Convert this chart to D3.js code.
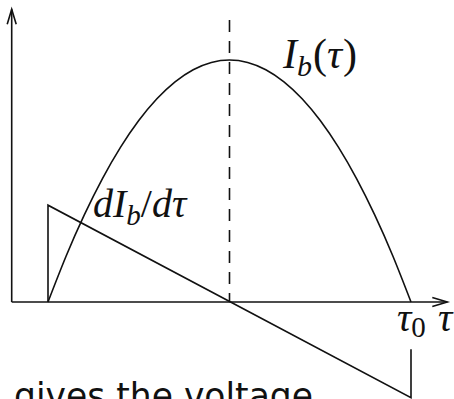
<!DOCTYPE html>
<html>
<head>
<meta charset="utf-8">
<script src="https://cdn.jsdelivr.net/npm/d3@7"></script>
<style>
  html, body { margin: 0; padding: 0; background: #fff; }
  svg { display: block; }
</style>
</head>
<body>
<svg id="chart" width="454" height="399"></svg>
<script>
// Normalised time: pulse starts at tau = 0 and ends at tau0 = 1
const tauSamples = [0, 0.05, 0.1, 0.15, 0.2, 0.25, 0.3, 0.35, 0.4, 0.45, 0.5,
                    0.55, 0.6, 0.65, 0.7, 0.75, 0.8, 0.85, 0.9, 0.95, 1];
// Bias current I_b(tau), peak normalised to 1
const currentValues = [0, 0.19, 0.36, 0.51, 0.64, 0.75, 0.84, 0.91, 0.96, 0.99, 1,
                       0.99, 0.96, 0.91, 0.84, 0.75, 0.64, 0.51, 0.36, 0.19, 0];
// Derivative dI_b/dtau: straight line between its end values
const derivTau = [0, 1];
const derivValues = [0.4, -0.395];
// Axis extent and guide lines
const axisTau = [-0.1, 1.1];
const axisTop = 1.21;
const peakTau = 0.5;
const peakGuideTop = 1.165;
const tau0GuideTop = -0.195;
// Text labels
const labelCurrent = { base: "I", sub: "b", tail: ["(", "τ", ")"] };
const labelDeriv = ["d", "I", "b", "/", "d", "τ"];
const caption = "gives the voltage";

const svg = d3.select("#chart");
const x = d3.scaleLinear().domain([0, 1]).range([48, 411]);
const y = d3.scaleLinear().domain([0, 1]).range([302, 60]);

const ink = "#111";
const sw = 1.6;
const g = svg.append("g").attr("fill", "none").attr("stroke", ink)
  .attr("stroke-width", sw).attr("stroke-linecap", "butt");

// Axes
const x0 = x(axisTau[0]), x1 = x(axisTau[1]);
g.append("line").attr("x1", x0).attr("x2", x1).attr("y1", y(0)).attr("y2", y(0));
g.append("line").attr("x1", x0).attr("x2", x0).attr("y1", y(0)).attr("y2", y(axisTop));
// Arrow heads
g.append("path").attr("stroke-linejoin", "miter")
  .attr("d", `M${x1 - 15},${y(0) - 4.5} L${x1},${y(0)} L${x1 - 15},${y(0) + 4.5}`);
g.append("path").attr("stroke-linejoin", "miter")
  .attr("d", `M${x0 - 4.5},${y(axisTop) + 15} L${x0},${y(axisTop)} L${x0 + 4.5},${y(axisTop) + 15}`);

// Dashed guide through the peak
g.append("line").attr("x1", x(peakTau)).attr("x2", x(peakTau))
  .attr("y1", y(peakGuideTop)).attr("y2", y(0))
  .attr("stroke-dasharray", "12,9");

// Current pulse
const curve = d3.line().x(d => x(d[0])).y(d => y(d[1])).curve(d3.curveNatural);
g.append("path").datum(d3.zip(tauSamples, currentValues)).attr("d", curve);

// Derivative: step up at tau = 0, linear fall, step back at tau0
const dPts = [[derivTau[0], 0], [derivTau[0], derivValues[0]],
              [derivTau[1], derivValues[1]], [derivTau[1], tau0GuideTop]];
g.append("path").datum(dPts)
  .attr("d", d3.line().x(d => x(d[0])).y(d => y(d[1])));

// Labels
const mathFont = "'Liberation Serif', 'DejaVu Serif', serif";
const t = svg.append("g").attr("fill", ink).attr("font-family", mathFont);

const l1 = t.append("text").attr("x", 283).attr("y", 68).attr("font-size", 42);
l1.append("tspan").attr("font-style", "italic").text(labelCurrent.base);
l1.append("tspan").attr("font-style", "italic").attr("font-size", 30).attr("dy", 8).text(labelCurrent.sub);
l1.append("tspan").attr("dy", -8).attr("dx", 1).text(labelCurrent.tail[0]);
l1.append("tspan").attr("font-style", "italic").text(labelCurrent.tail[1]);
l1.append("tspan").attr("dx", 1).text(labelCurrent.tail[2]);

const l2 = t.append("text").attr("x", 93).attr("y", 217).attr("font-size", 40);
l2.append("tspan").attr("font-style", "italic").text(labelDeriv[0]);
l2.append("tspan").attr("font-style", "italic").text(labelDeriv[1]);
l2.append("tspan").attr("font-style", "italic").attr("font-size", 29).attr("dy", 8).text(labelDeriv[2]);
l2.append("tspan").attr("dy", -8).text(labelDeriv[3]);
l2.append("tspan").attr("font-style", "italic").text(labelDeriv[4]);
l2.append("tspan").attr("font-style", "italic").text(labelDeriv[5]);

const l3 = t.append("text").attr("x", x(1) - 14).attr("y", 331).attr("font-size", 40);
l3.append("tspan").attr("font-style", "italic").text("τ");
l3.append("tspan").attr("font-size", 29).attr("dy", 6).text("0");
t.append("text").attr("x", 438).attr("y", 331).attr("font-size", 40)
  .attr("font-style", "italic").text("τ");

// Caption
svg.append("text").attr("x", 14).attr("y", 408)
  .attr("font-family", "'DejaVu Sans', sans-serif").attr("font-size", 36)
  .attr("fill", ink).attr("textLength", 299).attr("lengthAdjust", "spacingAndGlyphs")
  .text(caption);
</script>
</body>
</html>
